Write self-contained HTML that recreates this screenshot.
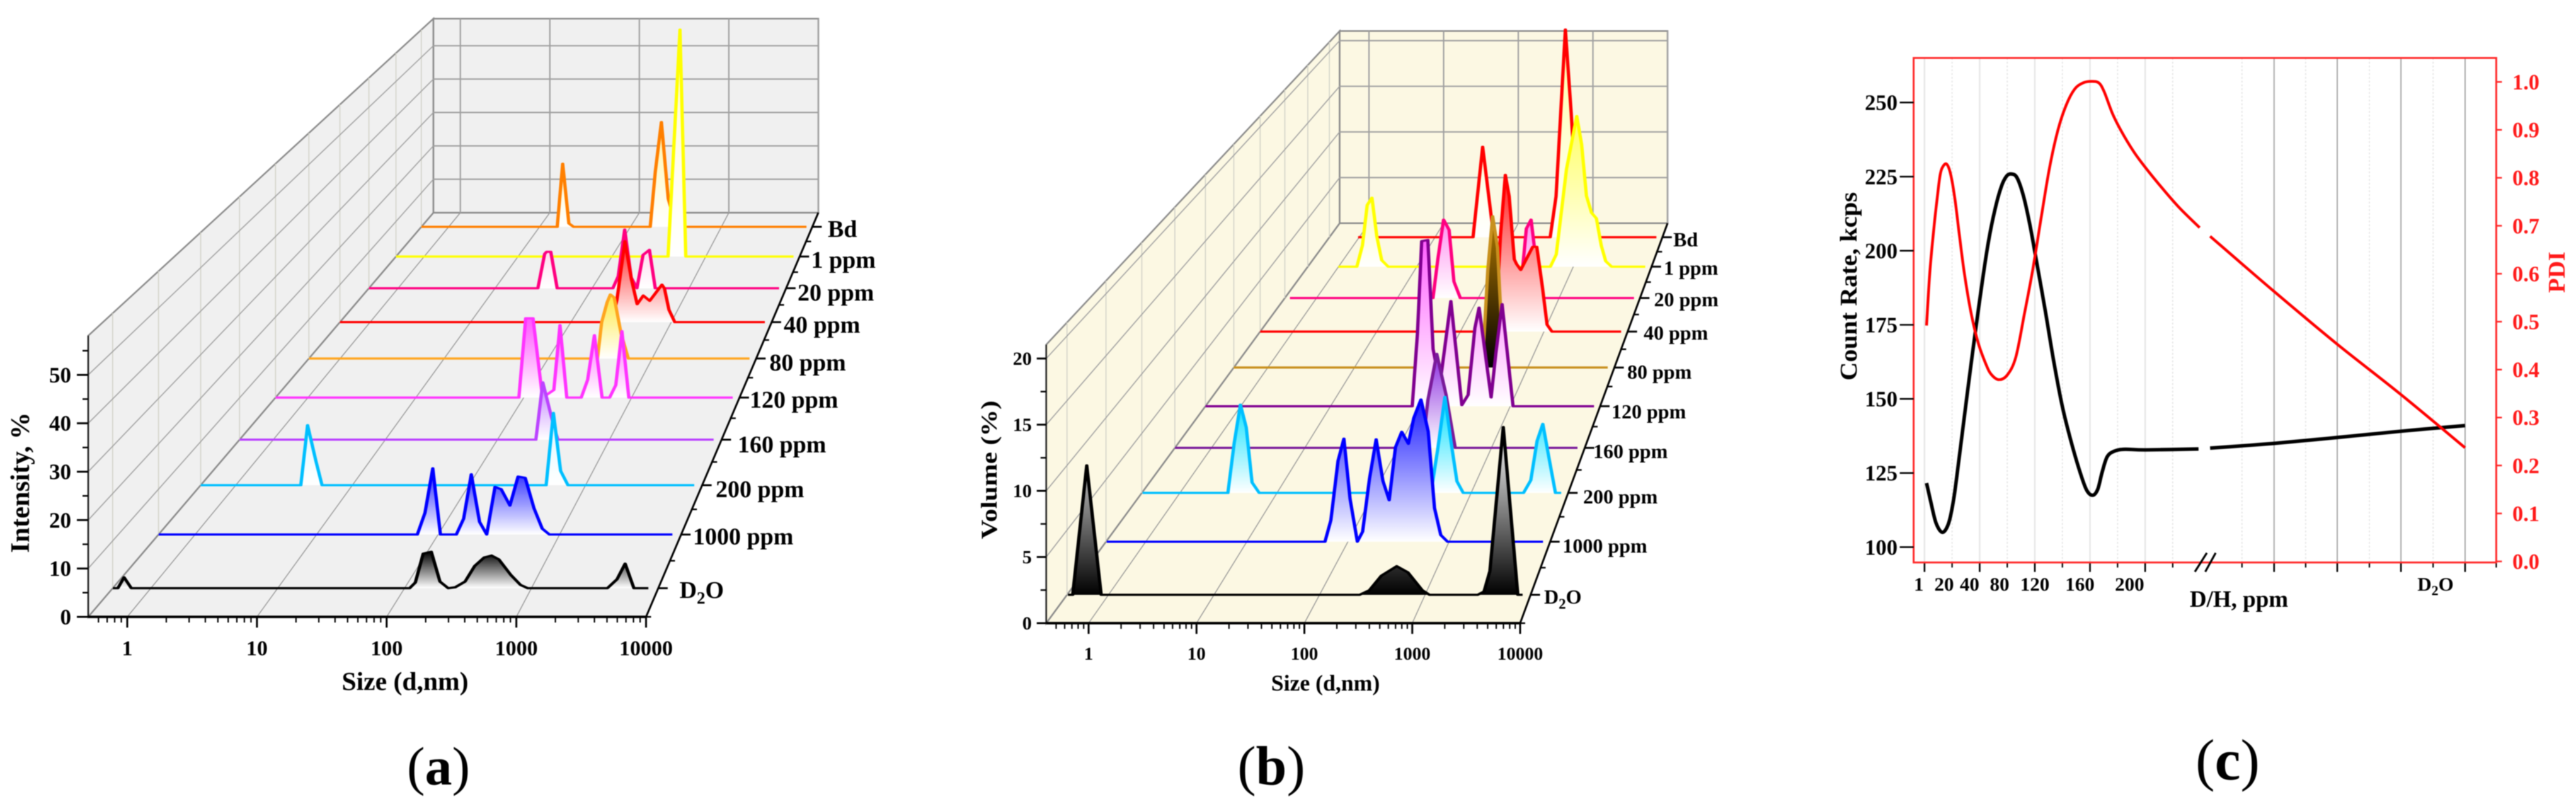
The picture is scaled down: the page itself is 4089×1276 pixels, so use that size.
<!DOCTYPE html>
<html lang="en">
<head>
<meta charset="utf-8">
<title>DLS size distributions and count rate / PDI</title>
<style>
html,body{margin:0;padding:0;background:#fff;width:4089px;height:1276px;overflow:hidden}
svg{display:block;filter:blur(0.7px)}
text{font-family:"Liberation Serif",serif;font-weight:bold;fill:#000}
</style>
</head>
<body>
<svg id="figure" xmlns="http://www.w3.org/2000/svg" width="4089" height="1276" viewBox="0 0 4089 1276">
  <defs id="gradients"></defs>
  <rect width="4089" height="1276" fill="#fff"/>

  <g id="panelA"></g>
  <g id="panelB"></g>
  <g id="panelC"></g>

  <g font-size="38">
    <text x="1314" y="376">Bd</text>
    <text x="1287.5" y="425">1 ppm</text>
    <text x="1266" y="477">20 ppm</text>
    <text x="1244" y="528">40 ppm</text>
    <text x="1221.4" y="588">80 ppm</text>
    <text x="1190" y="647">120 ppm</text>
    <text x="1171" y="718">160 ppm</text>
    <text x="1136" y="789">200 ppm</text>
    <text x="1100" y="864">1000 ppm</text>
    <text x="1078.6" y="949">D<tspan dy="9" font-size="27">2</tspan><tspan dy="-9">O</tspan></text>
  </g>
  <text x="643" y="1095" font-size="41.6" text-anchor="middle">Size (d,nm)</text>
  <text transform="translate(46,766) rotate(-90)" font-size="42" text-anchor="middle" textLength="223" lengthAdjust="spacingAndGlyphs">Intensity, %</text>
  <text x="696" y="1245" font-size="86" text-anchor="middle"><tspan font-weight="normal">(</tspan>a<tspan font-weight="normal">)</tspan></text>

  <g font-size="32">
    <text x="2656" y="391">Bd</text>
    <text x="2641" y="436">1 ppm</text>
    <text x="2625.5" y="486">20 ppm</text>
    <text x="2609" y="539">40 ppm</text>
    <text x="2583" y="601">80 ppm</text>
    <text x="2558" y="664">120 ppm</text>
    <text x="2529" y="727">160 ppm</text>
    <text x="2513" y="799">200 ppm</text>
    <text x="2480.4" y="877">1000 ppm</text>
    <text x="2451" y="958">D<tspan dy="8" font-size="23">2</tspan><tspan dy="-8">O</tspan></text>
  </g>
  <text x="2104" y="1096" font-size="35.7" text-anchor="middle">Size (d,nm)</text>
  <text transform="translate(1582,745.6) rotate(-90)" font-size="36" text-anchor="middle" textLength="220" lengthAdjust="spacingAndGlyphs">Volume (%)</text>
  <text x="2018" y="1245" font-size="88" text-anchor="middle"><tspan font-weight="normal">(</tspan>b<tspan font-weight="normal">)</tspan></text>

  <g font-size="31">
    <text x="3045.8" y="937.5" text-anchor="middle">1</text>
    <text x="3086" y="937.5" text-anchor="middle">20</text>
    <text x="3126.4" y="937.5" text-anchor="middle">40</text>
    <text x="3174" y="937.5" text-anchor="middle">80</text>
    <text x="3230" y="937.5" text-anchor="middle">120</text>
    <text x="3301.5" y="937.5" text-anchor="middle">160</text>
    <text x="3380.4" y="937.5" text-anchor="middle">200</text>
    <text x="3866" y="937.5" text-anchor="middle">D<tspan dy="7" font-size="22">2</tspan><tspan dy="-7">O</tspan></text>
  </g>
  <text x="3554" y="963" font-size="37" text-anchor="middle">D/H, ppm</text>
  <text transform="translate(2947,454.5) rotate(-90)" font-size="38" text-anchor="middle" textLength="299" lengthAdjust="spacingAndGlyphs">Count Rate, kcps</text>
  <text transform="translate(4071,432) rotate(-90)" font-size="38" text-anchor="middle" style="fill:#ff1a1a">PDI</text>
  <text x="3536" y="1237" font-size="92" text-anchor="middle"><tspan font-weight="normal">(</tspan>c<tspan font-weight="normal">)</tspan></text>
</svg>

<script>
// ---------- shared categories (front to back) ----------
const seriesNames = ['d2o','1000-ppm','200-ppm','160-ppm','120-ppm','80-ppm','40-ppm','20-ppm','1-ppm','bd'];

// ---------- panel (a): log10(size / nm) and intensity (%) ----------
const aLogD2O = [-.30,-.26,-.211,-.154,2.04,2.085,2.147,2.211,2.279,2.344,2.40,2.477,2.553,2.628,2.686,2.743,2.838,2.914,2.971,3.599,3.675,3.739,3.808,3.922];
const aValD2O = [0,0,2.3,0,0,1.2,7.3,7.7,1.4,0,.2,1.4,4.7,6.5,6.9,6.1,2.8,.7,0,0,1.9,5.2,0,0];
const aLog1000 = [-.30,1.829,1.892,1.956,2.019,2.15,2.21,2.273,2.341,2.40,2.468,2.519,2.591,2.658,2.717,2.789,2.857,2.916,3.928];
const aVal1000 = [0,0,4.8,14.6,0,0,3.5,13.3,2.8,0,10.5,10,6.4,12.8,12.5,5.8,1.3,0,0];
const aLog200 = [-.30,.558,.616,.687,.74,2.662,2.724,2.786,2.849,3.932];
const aVal200 = [0,0,13.8,5.6,0,0,16.6,3.3,0,0];
const aLog160 = [-.30,2.343,2.405,2.503,2.54,3.929];
const aVal160 = [0,0,13.7,3.2,0,0];
const aLog120 = [-.30,1.955,2.018,2.086,2.174,2.279,2.336,2.399,2.533,2.592,2.655,2.726,2.796,2.853,2.91,2.974,3.937];
const aVal120 = [0,0,19.7,19.7,0,1.9,18,0,0,4.4,15.5,0,0,3.1,16.5,0,0];
const aLog80 = [-.30,2.474,2.514,2.567,2.598,2.635,2.702,2.771,3.936];
const aVal80 = [0,0,9.3,14.5,16.5,15.7,6.3,0,0];
const aLog40 = [-.30,2.41,2.459,2.538,2.603,2.66,2.721,2.785,2.907,2.932,2.977,3.035,3.932];
const aVal40 = [0,0,6,21.6,11.4,4.8,7.1,5.7,10,9,3.3,0,0];
const aLog20 = [-.30,1.441,1.511,1.531,1.574,1.64,2.214,2.269,2.336,2.403,2.462,2.525,2.591,2.651,3.927];
const aVal20 = [0,0,9.5,10.07,10.07,0,0,3.3,16.2,3,0,9.2,10.6,0,0];
const aLog1 = [-.30,2.598,2.725,2.787,3.935];
const aVal1 = [0,0,64.8,0,0];
const aLogBd = [-.30,1.194,1.254,1.322,1.374,2.217,2.273,2.34,2.415,2.503,3.936];
const aValBd = [0,0,18.6,1,0,0,16.3,30.9,8.3,0,0];
const aYTicks = [0,10,20,30,40,50];
const aYMinorTicks = [5,15,25,35,45,55];

// ---------- panel (b): log10(size / nm) and volume (%) ----------
const bLogD2O = [-.384,-.339,-.206,-.069,2.38,2.472,2.586,2.731,2.837,2.974,3.042,3.499,3.559,3.614,3.741,3.879,3.924];
const bValD2O = [0,0,10,0,0,.35,1.48,2.21,1.74,.35,0,0,.26,1.83,12.96,0,0];
const bLog1000 = [-.386,1.773,1.831,1.902,1.96,2.021,2.093,2.145,2.213,2.279,2.346,2.408,2.47,2.532,2.598,2.651,2.722,2.794,2.856,2.918,2.985,3.929];
const bVal1000 = [0,0,1.73,6.53,8.31,3.46,0,.81,5.08,8.26,4.9,3.35,7.62,8.86,7.9,9.98,11.47,8.89,2.72,.54,0,0];
const bLog200 = [-.385,.494,.559,.623,.683,.743,.817,2.586,2.655,2.73,2.795,2.854,2.919,3.54,3.615,3.68,3.739,3.804,3.869,3.928];
const bVal200 = [0,0,4.19,7.42,5.51,.88,0,0,3.62,8.07,4.19,.97,0,0,1.07,4.38,5.8,2.87,0,0];
const bLog160 = [-.392,2.261,2.319,2.414,2.514,2.612,3.922];
const bVal160 = [0,0,4.18,8.22,4.63,0,0];
const bLog120 = [-.393,1.909,1.967,2.014,2.083,2.141,2.217,2.339,2.461,2.531,2.606,2.653,2.787,2.839,2.909,3.031,3.932];
const bVal120 = [0,0,6.62,15,15.1,5.2,1.98,9.55,.1,1.03,7.09,8.95,.8,4.76,9.27,0,0];
const bLog80 = [-.393,2.476,2.539,2.595,2.651,2.721,3.923];
const bVal80 = [0,0,9.18,14.26,11.3,0,0];
const bLog40 = [-.393,2.422,2.479,2.538,2.584,2.645,2.672,2.722,2.788,2.865,2.914,2.98,3.037,3.095,3.922];
const bVal40 = [0,0,9.26,15.3,13.2,7.06,6.6,6.02,7.06,8.27,8.27,4.42,.68,0,0];
const bLog20 = [-.329,1.44,1.5,1.571,1.639,1.699,1.778,2.514,2.594,2.653,2.693,2.753,3.926];
const bVal20 = [0,0,3.94,7.92,6.88,1.66,0,0,7,7.92,5.2,0,0];
const bLog1 = [-.003,.234,.305,.366,.427,.489,.551,.634,2.707,2.782,2.913,2.975,3.044,3.106,3.168,3.233,3.295,3.357,3.414,3.489,3.919];
const bVal1 = [0,0,2.21,6.43,7.2,3.15,.68,0,0,1.27,10.2,12.8,15.73,12.79,7.38,5.62,5.04,2.21,.57,0,0];
const bLogBd = [-.014,1.502,1.629,1.757,1.799,2.52,2.597,2.72,2.797,2.86,2.924,3.921];
const bValBd = [0,0,9.75,1.25,0,0,4.4,22.4,13.4,4.4,0,0];
const bYTicks = [0,5,10,15,20];
const bYMinorTicks = [2.5,7.5,12.5,17.5];

const xDecadeTicks = [0,1,2,3,4];
const xDecadeLabels = ['1','10','100','1000','10000'];

// ---------- panel (c): count rate (kcps) and PDI against axis position ----------
const rateLeftPos = [1.5,4.6,8.4,13,17.5,21.3,25.1,28.9,33,37,41.9,46.4,51,55.6,59.4,62.9,67,71.6,76.1,80.7,87.6,93.6,99.7,105.8,111.9,117.3,121.8,125.6,128.7,132.5,137.8,145.4,160.6,198.7];
const rateLeftVal = [121.6,115.2,108.1,105,108.1,116.6,130,144,159,173,189.6,203.1,213.7,221.5,225.1,225.9,224.7,218.7,209.5,197.8,179.7,163,148,136.5,126.6,119.5,117.5,119.5,125.1,130.5,132.4,133,132.8,133.1];
const rateRightPos = [207.1,253.5,299.3,345.5,392];
const rateRightVal = [133.4,135,137,139.1,141];
const pdiLeftPos = [1.5,3.8,6.9,9.1,11.4,13.7,16.3,19,22.1,25.1,28.9,33.5,38.8,44.9,48.7,54,60.1,66.2,72.3,78.4,84.5,90.6,96.7,102.8,108.9,115,121,126.4,130.2,136.3,142.4,151.6,160.6,172.8,185,199.5];
const pdiLeftVal = [.492,.601,.698,.755,.807,.825,.828,.807,.755,.685,.601,.522,.457,.409,.389,.379,.389,.426,.514,.607,.715,.82,.899,.952,.985,.998,1.001,.998,.98,.934,.899,.855,.82,.777,.737,.696];
const pdiRightPos = [207.1,253.5,299.3,345.5,392];
const pdiRightVal = [.678,.563,.453,.348,.237];
const rateTicks = [100,125,150,175,200,225,250];
const pdiTicks = [0,.1,.2,.3,.4,.5,.6,.7,.8,.9,1];
const cMajorTicks = [0,40,80,120,160,253.5,299.3,345.5,392];
const cMinorTicks = [20,60,100,140,180,230.2,276.4,322.6,368.8,414.6];

// ---------- styling and geometry ----------
const aStroke = ['#000','#0000ff','#00bfff','#bb44ff','#ff33ff','#ffa51e','#ff0000','#ff0080','#ffff00','#ff7f00'];
const aFillTop = ['#000','#2222ff','#d8f6ff','#c080ff','#ff55ff','#ffe840','#ff2a2a','#ffc8e6','#fffbd0','#fff4a8'];
const aFillBottom = ['#fff','#fff','#fff','#fff','#fff','#fff','#fff','#fff','#fff','#fff'];
const bStroke = ['#000','#0000ff','#00bfff','#7a1a9a','#800090','#c8901e','#ff0000','#ff0080','#ffff00','#ff0000'];
const bFillTop = ['#fff','#1a1aff','#00e0ff','#8a2ce0','#ff60ff','#b07800','#ff2020','#ff90f0','#ffff60','#ffffa0'];
const bFillBottom = ['#000','#fff','#fff','#fff','#fff','#000','#fff','#fff','#fff','#fff'];

const SVG_NS = 'http://www.w3.org/2000/svg';
const defs = document.getElementById('gradients');
const strokeStretch = 1.5;

function add(tag, attrs, parent) {
  const node = document.createElementNS(SVG_NS, tag);
  for (const key in attrs) node.setAttribute(key, attrs[key]);
  parent.appendChild(node);
  return node;
}

function project(P, lg, val, z) {
  const s = 1 / (1 + P.k * z);
  const t = (1 - s) / (1 - P.backScale);
  const left = P.frontLeft + (P.backLeft - P.frontLeft) * t;
  const right = P.frontRight + (P.backRight - P.frontRight) * t;
  const floor = P.frontY + (P.backY - P.frontY) * t;
  return [left + (lg - P.lgMin) / (P.lgMax - P.lgMin) * (right - left), floor - val * P.pxPerUnit * s];
}

function pairs(points) {
  return points.map(p => p[0].toFixed(1) + ',' + p[1].toFixed(1)).join(' ');
}

// Traces are wider on steep segments than on flat ones, so they are drawn in an x-stretched space.
function stretchedPairs(points) {
  return points.map(p => (p[0] / strokeStretch).toFixed(2) + ',' + p[1].toFixed(1)).join(' ');
}

function drawLine(parent, a, b, color, width, name) {
  const line = add('line', {x1:a[0], y1:a[1], x2:b[0], y2:b[1], stroke:color, 'stroke-width':width}, parent);
  
  
  return line;
}

function drawLabel(parent, x, y, label, size, anchor, color, name) {
  const text = add('text', {x:x, y:y, 'font-size':size, 'text-anchor':anchor}, parent);
  text.textContent = label;
  if (color) text.style.fill = color;
  
  
  return text;
}

function drawPlane(parent, points, name) {
  const plane = add('polygon', {points:pairs(points), fill:parent.dataset.wall, stroke:'#8a8a8a', 'stroke-width':2.5}, parent);
  
  
}

function drawPanel(P) {
  const g = P.group;
  g.dataset.wall = P.wall;
  const lo = P.lgMin, hi = P.lgMax, top = P.top;

  drawPlane(g, [project(P,lo,0,0),project(P,hi,0,0),project(P,hi,0,1),project(P,lo,0,1)], 'floor-plane');
  drawPlane(g, [project(P,lo,0,0),project(P,lo,top,0),project(P,lo,top,1),project(P,lo,0,1)], 'left-wall');
  drawPlane(g, [project(P,lo,0,1),project(P,lo,top,1),project(P,hi,top,1),project(P,hi,0,1)], 'back-wall');

  // Depth gridlines on the left wall sit at each category position.
  seriesNames.forEach((name, i) => {
    const z = (i + .5) / seriesNames.length;
    drawLine(g, project(P,lo,0,z), project(P,lo,top,z), '#d2d2c8', 1.6, 'left-wall-depth-gridline-' + name);
  });
  P.yTicks.filter(v => v > 0).forEach(v => {
    drawLine(g, project(P,lo,v,0), project(P,lo,v,1), '#a0a0a0', 1.6, 'left-wall-gridline-' + v);
    drawLine(g, project(P,lo,v,1), project(P,hi,v,1), '#a0a0a0', 2.2, 'back-wall-gridline-' + v);
  });
  xDecadeTicks.forEach(d => {
    drawLine(g, project(P,d,0,0), project(P,d,0,1), '#949494', 1.4, 'floor-gridline-' + xDecadeLabels[d]);
    drawLine(g, project(P,d,0,1), project(P,d,top,1), '#a0a0a0', 2.2, 'back-wall-vertical-gridline-' + xDecadeLabels[d]);
  });

  // Front axes.
  drawLine(g, project(P,lo,0,0), project(P,lo,top,0), '#222', 2.5, 'y-axis-line');
  drawLine(g, project(P,lo,0,0), project(P,hi,0,0), '#000', 4, 'x-axis-line');
  drawLine(g, project(P,hi,0,0), project(P,hi,0,1), '#000', 3, 'depth-axis-line');

  P.yTicks.forEach(v => {
    const p = project(P,lo,v,0);
    drawLine(g, [p[0]-P.yTickLen,p[1]], p, '#000', 3, 'y-tick-' + v);
    drawLabel(g, p[0]-P.yLabelGap, p[1]+P.yLabelSize*.34, String(v), P.yLabelSize, 'end', null, 'y-tick-label-' + v);
  });
  P.yMinor.forEach(v => {
    const p = project(P,lo,v,0);
    drawLine(g, [p[0]-9,p[1]], p, '#000', 2.5, 'y-minor-tick-' + v);
  });
  xDecadeTicks.forEach(d => {
    const p = project(P,d,0,0);
    drawLine(g, p, [p[0],p[1]+17], '#000', 3, 'x-tick-' + xDecadeLabels[d]);
    drawLabel(g, p[0], P.xLabelY, xDecadeLabels[d], P.xLabelSize, 'middle', null, 'x-tick-label-' + xDecadeLabels[d]);
  });
  for (let d = -1; d < 4; d++) {
    for (let m = 2; m < 10; m++) {
      const lg = d + Math.log10(m);
      if (lg < lo) continue;
      const p = project(P,lg,0,0);
      drawLine(g, p, [p[0],p[1]+9], '#000', 2.2, 'x-minor-tick');
    }
  }
  seriesNames.forEach((name, i) => {
    const n = seriesNames.length;
    const major = project(P,hi,0,(i + .5) / n);
    drawLine(g, major, [major[0]+15,major[1]], '#000', 3, 'depth-tick-' + name);
    const minor = project(P,hi,0,i / n);
    drawLine(g, minor, [minor[0]+8,minor[1]], '#000', 2.5, 'depth-minor-tick');
  });

  // Series, back to front so nearer fills cover farther traces.
  for (let i = seriesNames.length - 1; i >= 0; i--) {
    const z = (i + .5) / seriesNames.length;
    const logs = P.logs[i];
    const vals = P.vals[i];
    const pts = logs.map((lg, j) => project(P, lg, vals[j], z));
    const base = project(P, logs[0], 0, z)[1];
    const peak = Math.min.apply(null, pts.map(p => p[1]));
    const gradId = P.id + '-fill-' + seriesNames[i];
    const grad = add('linearGradient', {id:gradId, gradientUnits:'userSpaceOnUse', x1:0, x2:0, y1:peak, y2:base}, defs);
    add('stop', {offset:0, 'stop-color':P.fillTop[i]}, grad);
    add('stop', {offset:1, 'stop-color':P.fillBottom[i]}, grad);
    const fill = add('polygon', {points:pairs(pts), fill:'url(#' + gradId + ')'}, g);
    
    
    const trace = add('polyline', {points:stretchedPairs(pts), transform:'scale(' + strokeStretch + ' 1)', fill:'none', stroke:P.stroke[i], 'stroke-width':P.strokeWidth, 'stroke-linejoin':'round'}, g);
    
    
  }
}

const backScale = 0.69;
const depthK = 1 / backScale - 1;

drawPanel({
  id:'a', group:document.getElementById('panelA'), wall:'#f0f0f0',
  k:depthK, backScale:backScale, lgMin:-.301, lgMax:4, top:58.1, pxPerUnit:7.68,
  frontLeft:140, frontRight:1025.5, frontY:979, backLeft:688, backRight:1299, backY:337.5,
  yTicks:aYTicks, yMinor:aYMinorTicks, yTickLen:18, yLabelGap:27, yLabelSize:35, xLabelY:1040, xLabelSize:34,
  logs:[aLogD2O,aLog1000,aLog200,aLog160,aLog120,aLog80,aLog40,aLog20,aLog1,aLogBd],
  vals:[aValD2O,aVal1000,aVal200,aVal160,aVal120,aVal80,aVal40,aVal20,aVal1,aValBd],
  stroke:aStroke, fillTop:aFillTop, fillBottom:aFillBottom, strokeWidth:3.5
});

drawPanel({
  id:'b', group:document.getElementById('panelB'), wall:'#fcf8e3',
  k:depthK, backScale:backScale, lgMin:-.393, lgMax:4, top:21.05, pxPerUnit:21,
  frontLeft:1660.7, frontRight:2413, frontY:989, backLeft:2126.5, backRight:2647, backY:354.3,
  yTicks:bYTicks, yMinor:bYMinorTicks, yTickLen:15, yLabelGap:23, yLabelSize:30, xLabelY:1047, xLabelSize:29,
  logs:[bLogD2O,bLog1000,bLog200,bLog160,bLog120,bLog80,bLog40,bLog20,bLog1,bLogBd],
  vals:[bValD2O,bVal1000,bVal200,bVal160,bVal120,bVal80,bVal40,bVal20,bVal1,bValBd],
  stroke:bStroke, fillTop:bFillTop, fillBottom:bFillBottom, strokeWidth:3.5
});

// ---------- panel (c) ----------
const frameLeft = 3037.6, frameRight = 3962.4, frameTop = 92, frameBottom = 892.7;
const xC = p => 3054.85 + 2.189 * p;
const yRate = v => 868.3 - (v - 100) * 4.704;
const yPdi = v => 891 - v * 761;
const gC = document.getElementById('panelC');

function smoothPath(xs, ys) {
  let d = 'M' + xs[0].toFixed(1) + ' ' + ys[0].toFixed(1);
  for (let i = 0; i < xs.length - 1; i++) {
    const a = Math.max(i - 1, 0), b = Math.min(i + 2, xs.length - 1);
    const c1x = xs[i] + (xs[i+1] - xs[a]) / 6, c1y = ys[i] + (ys[i+1] - ys[a]) / 6;
    const c2x = xs[i+1] - (xs[b] - xs[i]) / 6, c2y = ys[i+1] - (ys[b] - ys[i]) / 6;
    d += 'C' + c1x.toFixed(1) + ' ' + c1y.toFixed(1) + ' ' + c2x.toFixed(1) + ' ' + c2y.toFixed(1) + ' ' + xs[i+1].toFixed(1) + ' ' + ys[i+1].toFixed(1);
  }
  return d;
}

function drawCurve(pos, vals, yFn, color, width, name) {
  const curve = add('path', {d:smoothPath(pos.map(xC), vals.map(yFn)), fill:'none', stroke:color, 'stroke-width':width, 'stroke-linecap':'butt'}, gC);
  
  
}

cMinorTicks.forEach(p => {
  const grid = drawLine(gC, [xC(p),frameTop], [xC(p),frameBottom], '#e2e2e2', 1.6, 'minor-gridline');
  grid.setAttribute('stroke-dasharray', '3 3');
  drawLine(gC, [xC(p),frameBottom], [xC(p),frameBottom+8], '#000', 2.2, 'x-minor-tick');
});
cMajorTicks.forEach(p => {
  drawLine(gC, [xC(p),frameTop], [xC(p),frameBottom], p > 200 ? '#a8a8a8' : '#e6e6e6', p > 200 ? 2 : 2.4, 'major-gridline');
  drawLine(gC, [xC(p),frameBottom], [xC(p),frameBottom+15], '#000', 2.6, 'x-tick');
});

const frame = add('rect', {x:frameLeft, y:frameTop, width:frameRight-frameLeft, height:frameBottom-frameTop, fill:'none', stroke:'#ff2a2a', 'stroke-width':3}, gC);



rateTicks.forEach(v => {
  drawLine(gC, [frameLeft-22,yRate(v)], [frameLeft,yRate(v)], '#000', 2.6, 'left-tick-' + v);
  drawLabel(gC, 3012, yRate(v)+12, String(v), 34.6, 'end', null, 'left-tick-label-' + v);
});
pdiTicks.forEach(v => {
  drawLine(gC, [frameRight,yPdi(v)], [frameRight+9,yPdi(v)], '#ff2a2a', 2.6, 'right-tick');
  drawLabel(gC, 3988, yPdi(v)+12, v.toFixed(1), 34.4, 'start', '#ff1a1a', 'right-tick-label-' + v.toFixed(1));
});

const breakMarkA = drawLine(gC, [3484,907.5], [3503,877.5], '#000', 3.2, 'axis-break-mark-left');
const breakMarkB = drawLine(gC, [3500.5,907.5], [3517,877.5], '#000', 3.2, 'axis-break-mark-right');

drawCurve(rateLeftPos, rateLeftVal, yRate, '#000', 5.6, 'count-rate-curve-left');
drawCurve(rateRightPos, rateRightVal, yRate, '#000', 5.6, 'count-rate-curve-right');
drawCurve(pdiLeftPos, pdiLeftVal, yPdi, '#ff0000', 4.4, 'pdi-curve-left');
drawCurve(pdiRightPos, pdiRightVal, yPdi, '#ff0000', 4.4, 'pdi-curve-right');
</script>
</body>
</html>
